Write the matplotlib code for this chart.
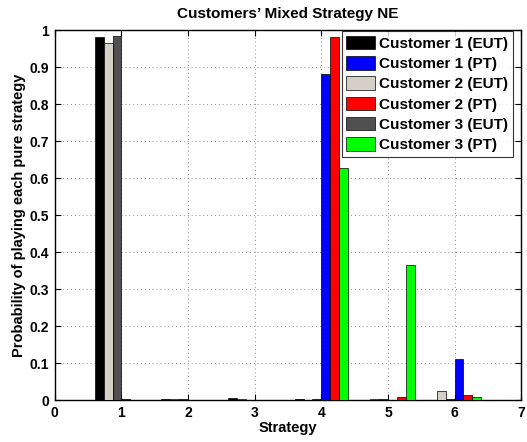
import numpy as np
import matplotlib
matplotlib.use('Agg')
import matplotlib.pyplot as plt

plt.rcParams['font.family'] = ['Liberation Sans', 'DejaVu Sans']
plt.rcParams['font.weight'] = 'bold'

strategies = [1, 2, 3, 4, 5, 6]

# probabilities per customer / model
c1_eut = [0.980, 0.004, 0.006, 0.004, 0.000, 0.001]
c2_eut = [0.965, 0.003, 0.002, 0.001, 0.003, 0.024]
c3_eut = [0.983, 0.002, 0.000, 0.003, 0.003, 0.004]
c1_pt = [0.003, 0.000, 0.000, 0.882, 0.000, 0.112]
c2_pt = [0.000, 0.000, 0.000, 0.980, 0.008, 0.013]
c3_pt = [0.000, 0.000, 0.000, 0.628, 0.365, 0.008]

labels = ['Customer 1 (EUT)', 'Customer 1 (PT)', 'Customer 2 (EUT)',
          'Customer 2 (PT)', 'Customer 3 (EUT)', 'Customer 3 (PT)']

# bars are drawn EUT first, then PT
series = [
    (c1_eut, 'Customer 1 (EUT)', '#000000'),
    (c2_eut, 'Customer 2 (EUT)', '#d4d0c8'),
    (c3_eut, 'Customer 3 (EUT)', '#505050'),
    (c1_pt, 'Customer 1 (PT)', '#0000ff'),
    (c2_pt, 'Customer 2 (PT)', '#ff0000'),
    (c3_pt, 'Customer 3 (PT)', '#00ff00'),
]

fig = plt.figure(figsize=(5.27, 4.42), dpi=100)
ax = fig.add_axes([0.104, 0.095, 0.885, 0.837])

x = np.array(strategies, dtype=float)
n = len(series)
w = 0.8 / n
handles = {}
for i, (vals, name, col) in enumerate(series):
    offs = (i - (n - 1) / 2) * w
    bars = ax.bar(x + offs, vals, width=w, color=col, edgecolor='black',
                  linewidth=0.5, zorder=3)
    handles[name] = bars

ax.set_xlim(0, 7)
ax.set_ylim(0, 1)
ax.set_xticks(range(0, 8))
ax.set_yticks(np.arange(0, 1.01, 0.1))
ax.set_yticklabels(['0', '0.1', '0.2', '0.3', '0.4', '0.5', '0.6', '0.7',
                    '0.8', '0.9', '1'])
ax.tick_params(direction='in', labelsize=10, length=4, top=True, right=True,
               pad=4)
ax.grid(True, linestyle=(0, (1, 3)), color='#909090', linewidth=0.7, zorder=0)
for s in ax.spines.values():
    s.set_linewidth(1.0)

ax.set_xlabel('Strategy', fontsize=10.5, fontweight='bold', labelpad=1)
ax.set_ylabel('Probability of playing each pure strategy', fontsize=10.5,
              fontweight='bold', labelpad=3)
ax.set_title("Customers\u2019 Mixed Strategy NE", fontsize=11,
             fontweight='bold', pad=9)

leg = ax.legend([handles[l] for l in labels], labels, loc='upper right',
                bbox_to_anchor=(0.982, 0.997),
                fontsize=11, frameon=True, fancybox=False, edgecolor='black',
                borderpad=0.3, labelspacing=0.34, handlelength=1.9,
                handleheight=1.0, handletextpad=0.25,
                borderaxespad=0.0)
leg.get_frame().set_linewidth(0.8)
for t in leg.get_texts():
    t.set_fontweight('bold')

fig.savefig('out.png', dpi=100)
